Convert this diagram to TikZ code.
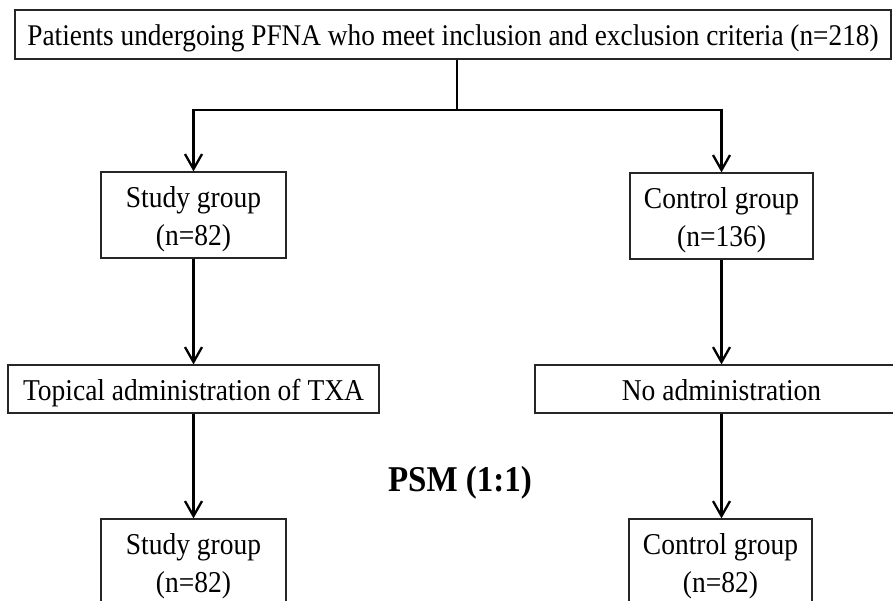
\documentclass[tikz,border=0pt]{standalone}
\usepackage{fontspec}
\setmainfont{Liberation Serif}
\usetikzlibrary{arrows.meta}
\newcommand{\vst}[1]{\raisebox{-4pt}[\height][\depth]{\scalebox{1}[1.1]{\vphantom{Tp(}#1}}}
\begin{document}
\begin{tikzpicture}[x=1pt,y=-1pt,
  box/.style={draw=black!85,line width=1.2pt,inner sep=0pt,align=center,
    font=\fontsize{27.5}{38}\selectfont},
  conn/.style={draw=black,line width=2.5pt,-{Straight Barb[length=15pt,width=17pt,line width=2.3pt]}},
  plain/.style={draw=black,line width=2pt}]
\clip (0,0) rectangle (893,601);
\useasboundingbox (0,0) rectangle (893,601);
\fill[white] (0,0) rectangle (893,601);
\node[box,minimum width=876pt,minimum height=49pt,font=\fontsize{27.3}{37}\selectfont] (top) at (453,34.5)
  {\vst{Patients undergoing PFNA who meet inclusion and exclusion criteria (n=218)}};
\node[box,minimum width=185pt,minimum height=86pt] (s1) at (193.5,215) {\vst{Study group}\\\vst{(n=82)}};
\node[box,minimum width=183pt,minimum height=86pt] (c1) at (721.5,216) {\vst{Control group}\\\vst{(n=136)}};
\node[box,minimum width=371pt,minimum height=48pt] (tx) at (193.5,389) {\vst{Topical administration of TXA}};
\node[box,minimum width=373pt,minimum height=48pt] (na) at (721.5,389) {\vst{No administration}};
\node[box,minimum width=185pt,minimum height=86pt] (s2) at (193.5,562) {\vst{Study group}\\\vst{(n=82)}};
\node[box,minimum width=183pt,minimum height=86pt] (c2) at (720.5,562) {\vst{Control group}\\\vst{(n=82)}};
\node[font=\bfseries\fontsize{33}{40}\selectfont] (psm) at (460,479) {\vst{PSM (1:1)}};
\coordinate (split) at (457,110);
\draw[plain] (top.south -| split) -- (split);
\draw[conn] (split) -| (s1.north);
\draw[conn] (split) -| (c1.north);
\draw[conn] (s1.south) -- (tx.north);
\draw[conn] (c1.south) -- (na.north);
\draw[conn] (tx.south) -- (s2.north);
\draw[conn] (na.south) -- (na.south |- c2.north);
\end{tikzpicture}
\end{document}
